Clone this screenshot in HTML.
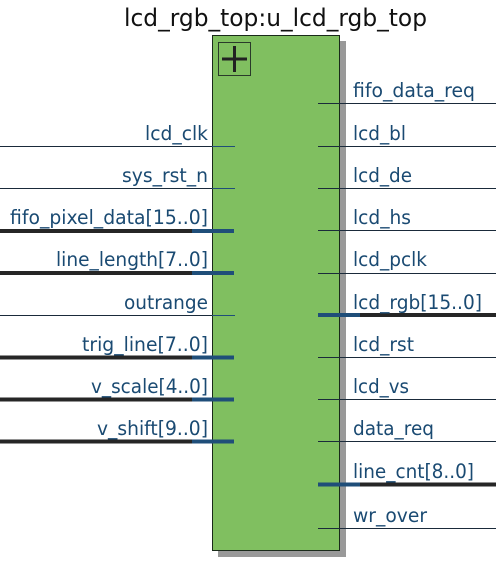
<!DOCTYPE html>
<html><head><style>
html,body{margin:0;padding:0;background:#fff;}
svg{display:block;}
text{font-family:"DejaVu Sans","Liberation Sans",sans-serif;font-size:19.5px;fill:#1a4a72;}
</style></head><body>
<svg width="496" height="562" viewBox="0 0 496 562" xmlns="http://www.w3.org/2000/svg">
<text x="124" y="26" textLength="303" lengthAdjust="spacingAndGlyphs" style="font-size:24px;fill:#111">lcd_rgb_top:u_lcd_rgb_top</text>
<rect x="218" y="41" width="128" height="516" fill="#999"/>
<rect x="212.5" y="35.5" width="127" height="515" fill="#80bf60" stroke="#1a2a1a" stroke-width="1"/>
<rect x="218.5" y="42.5" width="32" height="33" fill="none" stroke="#2a3a2a" stroke-width="1"/>
<line x1="222" y1="59" x2="247" y2="59" stroke="#222" stroke-width="3"/>
<line x1="234.5" y1="46" x2="234.5" y2="72" stroke="#222" stroke-width="3"/>
<g stroke-width="1">
<line x1="0" y1="146.5" x2="212" y2="146.5" stroke="#1a2a3a"/><line x1="212" y1="146.5" x2="235" y2="146.5" stroke="#1f4e79"/>
<line x1="0" y1="188.5" x2="212" y2="188.5" stroke="#1a2a3a"/><line x1="212" y1="188.5" x2="235" y2="188.5" stroke="#1f4e79"/>
<line x1="0" y1="315.5" x2="212" y2="315.5" stroke="#1a2a3a"/><line x1="212" y1="315.5" x2="235" y2="315.5" stroke="#1f4e79"/>
<line x1="318" y1="103.5" x2="496" y2="103.5" stroke="#1a2a3a"/>
<line x1="318" y1="146.5" x2="496" y2="146.5" stroke="#1a2a3a"/>
<line x1="318" y1="188.5" x2="496" y2="188.5" stroke="#1a2a3a"/>
<line x1="318" y1="230.5" x2="496" y2="230.5" stroke="#1a2a3a"/>
<line x1="318" y1="273.5" x2="496" y2="273.5" stroke="#1a2a3a"/>
<line x1="318" y1="357.5" x2="496" y2="357.5" stroke="#1a2a3a"/>
<line x1="318" y1="399.5" x2="496" y2="399.5" stroke="#1a2a3a"/>
<line x1="318" y1="441.5" x2="496" y2="441.5" stroke="#1a2a3a"/>
<line x1="318" y1="528.5" x2="496" y2="528.5" stroke="#1a2a3a"/>
</g>
<g stroke-width="4">
<line x1="0" y1="231" x2="192" y2="231" stroke="#262626"/><line x1="192" y1="231" x2="234" y2="231" stroke="#1f4e79"/>
<line x1="0" y1="273" x2="192" y2="273" stroke="#262626"/><line x1="192" y1="273" x2="234" y2="273" stroke="#1f4e79"/>
<line x1="0" y1="357.5" x2="192" y2="357.5" stroke="#262626"/><line x1="192" y1="357.5" x2="234" y2="357.5" stroke="#1f4e79"/>
<line x1="0" y1="399.5" x2="192" y2="399.5" stroke="#262626"/><line x1="192" y1="399.5" x2="234" y2="399.5" stroke="#1f4e79"/>
<line x1="0" y1="441.5" x2="192" y2="441.5" stroke="#262626"/><line x1="192" y1="441.5" x2="234" y2="441.5" stroke="#1f4e79"/>
<line x1="360" y1="315" x2="496" y2="315" stroke="#262626"/><line x1="318" y1="315" x2="360" y2="315" stroke="#1f4e79"/>
<line x1="360" y1="484.5" x2="496" y2="484.5" stroke="#262626"/><line x1="318" y1="484.5" x2="360" y2="484.5" stroke="#1f4e79"/>
</g>
<g>
<text x="145" y="140" textLength="63" lengthAdjust="spacingAndGlyphs">lcd_clk</text>
<text x="122" y="182" textLength="86" lengthAdjust="spacingAndGlyphs">sys_rst_n</text>
<text x="10" y="224" textLength="198" lengthAdjust="spacingAndGlyphs">fifo_pixel_data[15..0]</text>
<text x="56" y="266" textLength="152" lengthAdjust="spacingAndGlyphs">line_length[7..0]</text>
<text x="124" y="309" textLength="84" lengthAdjust="spacingAndGlyphs">outrange</text>
<text x="82" y="351" textLength="126" lengthAdjust="spacingAndGlyphs">trig_line[7..0]</text>
<text x="91" y="393" textLength="117" lengthAdjust="spacingAndGlyphs">v_scale[4..0]</text>
<text x="97" y="435" textLength="111" lengthAdjust="spacingAndGlyphs">v_shift[9..0]</text>
<text x="353" y="97" textLength="122" lengthAdjust="spacingAndGlyphs">fifo_data_req</text>
<text x="353" y="140" textLength="53" lengthAdjust="spacingAndGlyphs">lcd_bl</text>
<text x="353" y="182" textLength="59" lengthAdjust="spacingAndGlyphs">lcd_de</text>
<text x="353" y="224" textLength="58" lengthAdjust="spacingAndGlyphs">lcd_hs</text>
<text x="353" y="266" textLength="74" lengthAdjust="spacingAndGlyphs">lcd_pclk</text>
<text x="353" y="309" textLength="129" lengthAdjust="spacingAndGlyphs">lcd_rgb[15..0]</text>
<text x="353" y="351" textLength="61" lengthAdjust="spacingAndGlyphs">lcd_rst</text>
<text x="353" y="393" textLength="56" lengthAdjust="spacingAndGlyphs">lcd_vs</text>
<text x="353" y="435" textLength="81" lengthAdjust="spacingAndGlyphs">data_req</text>
<text x="353" y="478" textLength="121" lengthAdjust="spacingAndGlyphs">line_cnt[8..0]</text>
<text x="353" y="522" textLength="74" lengthAdjust="spacingAndGlyphs">wr_over</text>
</g>
</svg>
</body></html>
